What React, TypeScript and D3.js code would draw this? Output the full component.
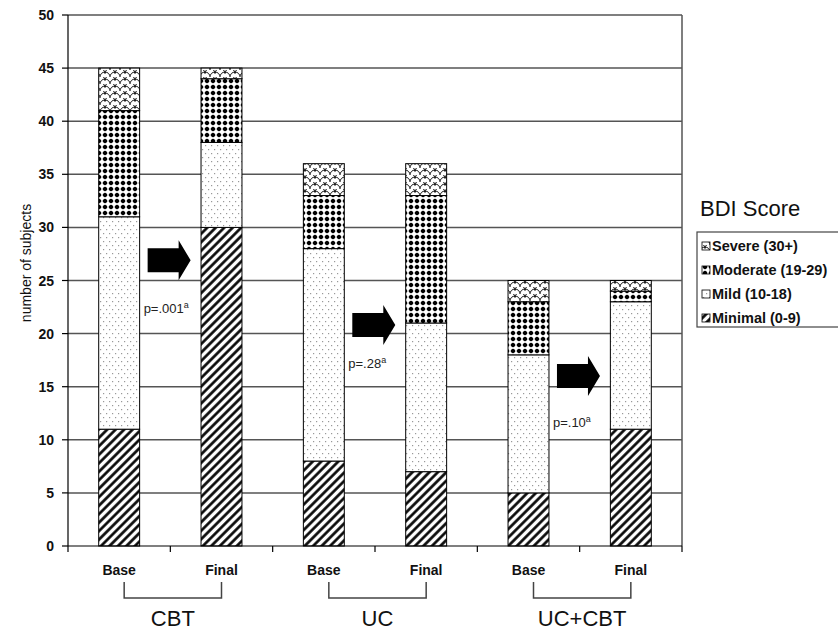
import * as d3 from "d3";
import React from "react";

// categories and stacked counts (bottom -> top)
const groups = ["CBT", "UC", "UC+CBT"];
const times = ["Base", "Final"];
const barIds = ["CBT-Base", "CBT-Final", "UC-Base", "UC-Final", "UCCBT-Base", "UCCBT-Final"];
const levels = ["Minimal", "Mild", "Moderate", "Severe"];
const legendLabels = ["Severe (30+)", "Moderate (19-29)", "Mild (10-18)", "Minimal (0-9)"];
const minimal = [11, 30, 8, 7, 5, 11];
const mild = [20, 8, 20, 14, 13, 12];
const moderate = [10, 6, 5, 12, 5, 1];
const severe = [4, 1, 3, 3, 2, 1];
const yTicks = [0, 5, 10, 15, 20, 25, 30, 35, 40, 45, 50];
// annotations per group
const pLabels = ["p=.001", "p=.28", "p=.10"];
const arrowLevel = [26.9, 20.8, 16.0];
const pLevel = [21.9, 16.8, 11.2];

const W = 838;
const H = 633;
const margin = { left: 68, right: 156, top: 15, bottom: 87 };
const FONT = "'Liberation Sans', Arial, sans-serif";

const patternFill: Record<string, string> = {
  Minimal: "url(#pMinimal)",
  Mild: "url(#pMild)",
  Moderate: "url(#pModerate)",
  Severe: "url(#pSevere)",
};

export default function App() {
  const x = d3.scaleBand().domain(barIds).range([margin.left, W - margin.right]).padding(0);
  const y = d3.scaleLinear().domain([0, 50]).range([H - margin.bottom, margin.top]);
  const bw = x.bandwidth() * 0.4;

  const table = barIds.map((id, i) => ({
    id,
    Minimal: minimal[i],
    Mild: mild[i],
    Moderate: moderate[i],
    Severe: severe[i],
  }));
  const series = d3.stack<any>().keys(levels)(table);

  const barX = (id: string) => (x(id) as number) + (x.bandwidth() - bw) / 2;
  const centerX = (id: string) => (x(id) as number) + x.bandwidth() / 2;
  const x0 = margin.left;
  const x1 = W - margin.right;
  const yBase = y(0);

  return (
    <svg width={W} height={H} style={{ position: "absolute", left: 0, top: 0, background: "#fff" }} fontFamily={FONT}>
      <defs>
        <pattern id="pMinimal" width={6} height={6} patternUnits="userSpaceOnUse" patternTransform="rotate(45)">
          <rect width={6} height={6} fill="#fff" />
          <line x1={1.5} y1={0} x2={1.5} y2={6} stroke="#000" strokeWidth={2.6} />
        </pattern>
        <pattern id="pMild" width={6} height={8} patternUnits="userSpaceOnUse">
          <rect width={6} height={8} fill="#fff" />
          <rect x={1} y={1} width={1.2} height={1.2} fill="#999" />
          <rect x={4} y={5} width={1.2} height={1.2} fill="#999" />
        </pattern>
        <pattern id="pModerate" width={6} height={6} patternUnits="userSpaceOnUse">
          <rect width={6} height={6} fill="#fff" />
          <path d="M3,0.4 L5.6,3 L3,5.6 L0.4,3 Z" fill="#000" />
          <circle cx={3} cy={3} r={2.1} fill="#000" />
        </pattern>
        <pattern id="pSevere" width={10} height={7} patternUnits="userSpaceOnUse">
          <rect width={10} height={7} fill="#fff" />
          <path d="M0,7 A5,5 0 0,1 10,7 M-5,3.5 A5,5 0 0,1 5,3.5 M5,3.5 A5,5 0 0,1 15,3.5" fill="none" stroke="#000" strokeWidth={0.9} />
        </pattern>
      </defs>

      {/* gridlines */}
      {yTicks.slice(1).map((t) => (
        <line key={t} x1={x0} x2={x1} y1={y(t)} y2={y(t)} stroke="#555" strokeWidth={1.5} />
      ))}
      <line x1={x1} x2={x1} y1={y(50)} y2={yBase} stroke="#555" strokeWidth={1.5} />

      {/* bars */}
      {series.map((s) => (
        <g key={s.key}>
          {s.map((d, i) =>
            d[1] - d[0] > 0 ? (
              <rect
                key={barIds[i]}
                x={barX(barIds[i])}
                y={y(d[1])}
                width={bw}
                height={y(d[0]) - y(d[1])}
                fill={patternFill[s.key]}
                stroke="#000"
                strokeWidth={1}
              />
            ) : null
          )}
        </g>
      ))}

      {/* y axis */}
      <line x1={x0} x2={x0} y1={y(50)} y2={yBase} stroke="#000" strokeWidth={1.2} />
      {yTicks.map((t) => (
        <g key={t}>
          <line x1={x0 - 6} x2={x0} y1={y(t)} y2={y(t)} stroke="#000" strokeWidth={1.2} />
          <text x={x0 - 14} y={y(t) + 5} textAnchor="end" fontSize={14} fontWeight="bold" fill="#111">
            {t}
          </text>
        </g>
      ))}
      <text transform={`translate(31,263) rotate(-90)`} textAnchor="middle" fontSize={14} fill="#111">
        number of subjects
      </text>

      {/* x axis */}
      <line x1={x0} x2={x1} y1={yBase} y2={yBase} stroke="#000" strokeWidth={1.2} />
      {barIds.concat(["end"]).map((id, i) => {
        const xx = i < barIds.length ? (x(id) as number) : x1;
        return <line key={id} x1={xx} x2={xx} y1={yBase} y2={yBase + 6} stroke="#000" strokeWidth={1.2} />;
      })}
      {barIds.map((id, i) => (
        <text key={id} x={centerX(id)} y={575} textAnchor="middle" fontSize={14} fontWeight="bold" fill="#111">
          {times[i % 2]}
        </text>
      ))}
      {groups.map((g, gi) => {
        const a = centerX(barIds[gi * 2]) + 5;
        const b = centerX(barIds[gi * 2 + 1]);
        return (
          <g key={g}>
            <path d={`M${a},582 V598 H${b} V582`} fill="none" stroke="#444" strokeWidth={1.5} />
            <text x={(a + b) / 2} y={626} textAnchor="middle" fontSize={22} fill="#111">
              {g}
            </text>
          </g>
        );
      })}

      {/* arrows and p-values */}
      {groups.map((g, gi) => {
        const left = barX(barIds[gi * 2]) + bw;
        const ax = left + 8;
        const ay = y(arrowLevel[gi]);
        const arrow = d3.path();
        arrow.moveTo(ax, ay - 12);
        arrow.lineTo(ax + 31, ay - 12);
        arrow.lineTo(ax + 31, ay - 20);
        arrow.lineTo(ax + 43, ay);
        arrow.lineTo(ax + 31, ay + 20);
        arrow.lineTo(ax + 31, ay + 12);
        arrow.lineTo(ax, ay + 12);
        arrow.closePath();
        return (
          <g key={g}>
            <path d={arrow.toString()} fill="#000" />
            <text x={left + 4} y={y(pLevel[gi])} fontSize={13} fill="#222">
              {pLabels[gi]}
              <tspan fontSize={9} dy={-5}>a</tspan>
            </text>
          </g>
        );
      })}

      {/* legend */}
      <text x={700} y={216} fontSize={22} fill="#111">
        BDI Score
      </text>
      <rect x={697} y={232} width={150} height={95} fill="#fff" stroke="#444" strokeWidth={1.2} />
      {legendLabels.map((lab, i) => {
        const key = levels[levels.length - 1 - i];
        const ly = 251 + i * 24;
        return (
          <g key={lab}>
            <rect x={702} y={ly - 9} width={8} height={8} fill={patternFill[key]} stroke="#000" strokeWidth={0.8} />
            <text x={712} y={ly} fontSize={14.5} fontWeight="bold" fill="#111">
              {lab}
            </text>
          </g>
        );
      })}
    </svg>
  );
}
